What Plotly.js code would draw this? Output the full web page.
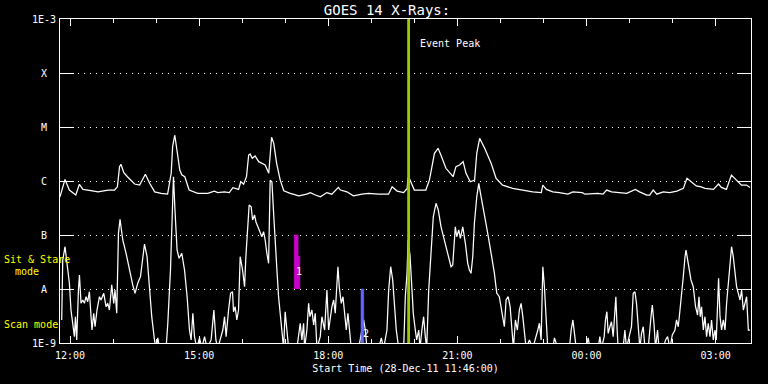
<!DOCTYPE html>
<html><head><meta charset="utf-8">
<script src="https://cdn.plot.ly/plotly-3.0.1.min.js"></script>
<style>html,body{margin:0;padding:0;background:#000;}#chart{width:768px;height:384px;}</style>
</head><body><div id="chart"></div>
<script>
// Minutes after start time 28-Dec-2011 11:46:00 UT
const START_UTC = Date.UTC(2011, 11, 28, 11, 46, 0);
const END_MIN = 963.3;

// Long channel (1-8 A) flux, W/m^2
const longT = [
 0,7,13,22,27,32,43,53,67,76,
 80,83,85,89,94,104,111,115,119,125,
 132,141,150,155,157,160,163,167,170,174,
 180,192,206,215,220,229,236,241,249,252,
 256,260,263,265,268,272,277,281,286,291,
 293,295,298,302,307,312,321,333,344,349,
 356,363,372,379,388,391,400,409,421,430,
 444,458,463,470,479,484,485,487,489,494,
 510,515,522,527,531,538,548,552,557,562,
 566,572,578,581,585,592,601,608,617,631,
 645,659,671,673,678,687,696,708,715,728,
 732,750,757,762,769,783,790,802,808,818,
 822,827,832,841,850,860,869,874,880,887,
 894,899,911,918,922,929,936,943,950,957,
 962];
const longF = [
 5.1e-7,1.07e-6,6.8e-7,5.5e-7,8.7e-7,7.0e-7,6.6e-7,6.3e-7,6.8e-7,6.8e-7,
 7.8e-7,1.84e-6,2.04e-6,1.43e-6,1.2e-6,8.8e-7,8.4e-7,1.04e-6,1.33e-6,9.1e-7,
 6.3e-7,5.9e-7,5.7e-7,1.39e-6,4.32e-6,7.11e-6,3.75e-6,1.6e-6,1.29e-6,1.2e-6,
 6.8e-7,5.9e-7,5.9e-7,6.5e-7,6.1e-7,6.3e-7,6.1e-7,7.5e-7,7.0e-7,9.7e-7,
 8.7e-7,1.2e-6,3.03e-6,3.16e-6,2.63e-6,2.9e-6,2.28e-6,2.13e-6,1.98e-6,1.39e-6,
 3.26e-6,6.44e-6,4.99e-6,2.13e-6,1.04e-6,6.6e-7,5.9e-7,5.3e-7,5.7e-7,6.1e-7,
 5.5e-7,5.1e-7,6.1e-7,5.7e-7,7.6e-7,6.8e-7,6.3e-7,5.3e-7,5.7e-7,5.9e-7,
 5.7e-7,5.7e-7,7.8e-7,6.5e-7,6.1e-7,7.3e-7,1.12e-6,1.12e-6,9.7e-7,6.8e-7,
 6.8e-7,1.04e-6,3.26e-6,4.03e-6,3.03e-6,1.72e-6,1.2e-6,1.84e-6,1.98e-6,2.28e-6,
 1.39e-6,9.7e-7,1.04e-6,3.26e-6,6.18e-6,4.03e-6,2.13e-6,1.12e-6,8.4e-7,7.3e-7,
 6.8e-7,6.3e-7,6.1e-7,8.4e-7,7.0e-7,6.3e-7,6.1e-7,5.7e-7,6.3e-7,6.1e-7,
 5.7e-7,5.9e-7,5.7e-7,6.8e-7,6.3e-7,6.1e-7,5.9e-7,7.0e-7,6.3e-7,5.5e-7,
 5.5e-7,6.8e-7,5.7e-7,6.3e-7,6.1e-7,6.5e-7,7.3e-7,1.12e-6,9.7e-7,8.1e-7,
 7.8e-7,7.3e-7,7.0e-7,8.8e-7,7.6e-7,7.0e-7,1.29e-6,1.04e-6,8.4e-7,8.4e-7,
 7.6e-7];

// Short channel (0.5-4 A) flux, W/m^2 (values below 1E-9 run along the bottom axis)
const shortT = [
 2.4,3.8,7.0,9.8,13.1,15.3,17.7,20.1,21.5,23.3,
 25.7,27.1,29.3,31.7,34.0,36.3,38.6,41.0,43.3,44.6,
 47.0,48.8,51.6,55.0,57.2,61.0,64.2,66.6,68.9,72.1,
 74.9,76.7,79.1,81.5,83.7,87.5,92.1,96.8,101.4,104.6,
 108.4,112.2,115.4,117.8,121.4,124.7,127.9,131.7,134.0,136.3,
 138.7,147.9,150.3,154.0,155.9,158.2,160.5,163.2,166.0,169.8,
 173.6,177.2,180.5,182.8,185.2,187.5,190.7,194.5,197.7,201.5,
 205.1,210.7,214.5,217.3,220.0,224.6,227.0,229.4,231.6,235.0,
 237.8,240.5,241.9,244.2,246.5,248.9,251.2,254.5,257.3,259.1,
 261.9,263.7,266.5,268.5,271.2,273.1,275.9,279.1,281.4,283.8,
 286.0,288.4,290.8,293.0,295.4,297.8,300.0,302.4,304.7,307.0,
 309.3,311.7,313.9,316.3,318.7,330.3,332.6,334.9,337.2,339.6,
 341.0,344.2,346.6,348.4,351.2,353.6,355.8,358.2,362.8,365.1,
 368.9,372.1,374.5,376.7,379.1,381.5,383.7,386.1,387.5,389.3,
 392.1,394.5,396.8,399.1,401.4,403.8,406.0,416.4,418.6,421.0,
 423.3,425.6,428.0,444.3,447.9,451.2,455.8,458.2,461.0,463.8,
 466.6,468.8,472.2,479.1,481.4,483.8,485.2,487.9,490.7,492.5,
 495.3,497.2,500.1,501.9,504.5,506.9,509.3,511.2,514.0,517.2,
 520.4,524.2,527.4,531.2,535.8,540.5,545.1,547.5,551.1,553.1,
 555.9,558.1,561.5,565.1,568.4,570.7,573.0,575.4,577.7,581.0,
 583.8,587.0,591.6,596.3,601.0,605.6,608.9,612.5,616.3,619.5,
 621.9,624.7,627.5,630.3,632.1,634.9,637.6,640.4,642.8,645.2,
 647.4,649.8,654.4,659.1,666.1,668.3,670.7,673.1,675.3,677.7,
 680.0,687.0,689.3,694.0,710.2,712.6,715.0,717.2,719.6,733.5,
 736.3,738.7,750.3,752.6,754.9,758.6,760.4,762.4,764.2,766.6,
 768.8,771.2,773.5,774.9,776.7,778.1,785.0,787.5,789.7,794.5,
 796.7,799.1,801.5,803.7,806.1,808.4,810.7,813.1,815.4,820.0,
 823.9,825.7,828.0,830.2,833.0,835.0,841.0,844.2,847.0,850.3,
 853.6,857.3,859.5,861.9,864.3,866.5,868.9,871.3,872.7,875.8,
 879.6,882.8,886.0,888.8,890.8,892.6,894.4,896.8,899.1,901.4,
 903.7,906.1,908.3,910.7,913.1,914.9,916.7,918.1,920.1,922.3,
 924.7,927.1,929.3,931.6,934.0,936.2,938.6,941.0,943.2,945.6,
 948.0,950.2,952.6,954.9,957.2,959.6,962.0];
const shortF = [
 2.67e-9,3.44e-8,6.07e-8,2.99e-8,1.28e-8,4.08e-9,2.32e-9,1.31e-9,3.07e-9,1.14e-9,
 9.58e-9,1.82e-8,5.43e-9,6.26e-9,5.43e-9,7.2e-9,5.82e-9,8.9e-9,3.07e-9,1.74e-9,
 3.55e-9,2.0e-9,4.08e-9,7.2e-9,6.26e-9,8.32e-9,4.7e-9,5.43e-9,4.08e-9,1.19e-8,
 5.43e-9,9.58e-9,3.55e-9,1.07e-7,1.95e-7,8.08e-8,4.58e-8,2.25e-8,1.19e-8,8.32e-9,
 1.28e-8,1.69e-8,3.96e-8,6.81e-8,3.96e-8,1.1e-8,3.07e-9,1.14e-9,8e-10,1.24e-9,
 8e-10,8e-10,2.32e-9,2.25e-8,1.9e-7,1.2e-6,2.52e-7,5.27e-8,3.7e-8,4.58e-8,
 2.25e-8,7.2e-9,1.74e-9,1.14e-9,3.55e-9,1.31e-9,8e-10,1.24e-9,8e-10,1.31e-9,
 8e-10,1.14e-9,4.08e-9,1.14e-9,8e-10,1.31e-9,1.74e-9,3.07e-9,1.31e-9,4.08e-9,
 8.32e-9,8.9e-9,3.8e-9,4.7e-9,2.67e-9,4.08e-9,3.96e-8,2.25e-8,1.1e-8,3.96e-8,
 1.65e-7,3.59e-7,3.34e-7,1.9e-7,2.35e-7,1.76e-7,1.42e-7,1.07e-7,9.3e-8,1.15e-7,
 8.08e-8,4.58e-8,2.99e-8,1.04e-6,9.7e-7,2.52e-7,6.07e-8,2.25e-8,7.2e-9,3.07e-9,
 1.31e-9,8e-10,3.8e-9,1.74e-9,8e-10,8e-10,1.51e-9,2.32e-9,1.14e-9,2.32e-9,
 8e-10,1.74e-9,5.43e-9,3.07e-9,4.08e-9,2.15e-9,3.55e-9,8e-10,1.31e-9,3.07e-9,
 1.74e-9,9.58e-9,1.74e-9,3.07e-9,4.7e-9,6.26e-9,3.55e-9,1.28e-8,2.59e-8,1.1e-8,
 5.43e-9,7.2e-9,3.07e-9,1.74e-9,3.55e-9,1.31e-9,8e-10,8e-10,1.14e-9,1.74e-9,
 2.67e-9,1.74e-9,8e-10,8e-10,1.24e-9,8e-10,1.74e-9,9.58e-9,2.59e-8,1.47e-8,
 4.08e-9,1.74e-9,8e-10,8e-10,7.2e-9,1.95e-8,8.08e-8,4.26e-8,9.58e-9,3.55e-9,
 1.74e-9,1.14e-9,1.74e-9,8e-10,1.74e-9,3.07e-9,1.31e-9,8e-10,9.58e-9,6.07e-8,
 2.18e-7,3.86e-7,2.9e-7,1.42e-7,8.08e-8,4.58e-8,2.59e-8,2.78e-8,1.42e-7,9.3e-8,
 1.24e-7,8.69e-8,1.42e-7,7.02e-8,2.99e-8,2.25e-8,1.95e-8,3.96e-8,1.65e-7,5.12e-7,
 9.06e-7,5.12e-7,2.52e-7,1.07e-7,4.58e-8,1.95e-8,8.32e-9,7.2e-9,3.55e-9,2.0e-9,
 6.26e-9,7.2e-9,4.7e-9,1.74e-9,8e-10,2.67e-9,1.74e-9,4.08e-9,5.43e-9,3.07e-9,
 1.31e-9,8e-10,1.14e-9,8e-10,1.74e-9,2.32e-9,1.14e-9,2.59e-8,1.1e-8,2.32e-9,
 8e-10,8e-10,1.24e-9,8e-10,8e-10,1.74e-9,2.67e-9,1.51e-9,8e-10,8e-10,
 1.24e-9,8e-10,8e-10,1.31e-9,8e-10,1.31e-9,2.67e-9,3.8e-9,1.51e-9,2.0e-9,
 2.48e-9,1.31e-9,3.55e-9,7.2e-9,1.74e-9,8e-10,8e-10,1.74e-9,8e-10,1.51e-9,
 2.0e-9,8.32e-9,8.9e-9,5.43e-9,2.32e-9,8e-10,1.51e-9,2.0e-9,8e-10,8e-10,
 3.07e-9,5.05e-9,2.32e-9,8e-10,1.74e-9,8e-10,8e-10,1.14e-9,1.31e-9,8e-10,
 1.41e-9,1.74e-9,2.67e-9,2.0e-9,4.08e-9,7.2e-9,1.69e-8,3.96e-8,5.27e-8,2.99e-8,
 1.47e-8,1.1e-8,4.7e-9,3.3e-9,7.2e-9,3.07e-9,4.7e-9,1.74e-9,3.07e-9,1.31e-9,
 2.32e-9,1.31e-9,2.67e-9,1.14e-9,1.74e-9,1.14e-9,4.08e-9,1.58e-8,3.07e-9,1.74e-9,
 2.67e-9,1.74e-9,5.43e-9,1.1e-8,2.99e-8,6.07e-8,3.96e-8,2.25e-8,1.1e-8,8.32e-9,
 6.26e-9,9.58e-9,4.08e-9,5.43e-9,7.2e-9,1.74e-9,1.74e-9];

// Observation windows (minutes after start, flux bounds)
const sitStareT = [326.5, 326.5, 332, 332, 334.4, 334.4];
const sitStareF = [1e-8, 1e-7, 1e-7, 4.1e-8, 4.1e-8, 1e-8];
const scanT = [419.6, 419.6, 423.5, 423.5];
const scanF = [1e-9, 1e-8, 1e-8, 1e-9];
const eventPeakT = 486;
const windowLabels = ['1', '2'];
const windowLabelT = [333, 426.5];
const windowLabelF = [2.1e-8, 1.5e-9];

// Y axis labels
const yTickVals = [1e-9, 1e-8, 1e-7, 1e-6, 1e-5, 1e-4, 1e-3];
const yTickText = ['1E-9', 'A', 'B', 'C', 'M', 'X', '1E-3'];

function toDate(m) {
  const d = new Date(START_UTC + Math.round(m * 60000));
  const p = n => String(n).padStart(2, '0');
  return d.getUTCFullYear() + '-' + p(d.getUTCMonth() + 1) + '-' + p(d.getUTCDate()) + ' ' +
    p(d.getUTCHours()) + ':' + p(d.getUTCMinutes()) + ':' + p(d.getUTCSeconds());
}

const FONT = 'DejaVu Sans Mono, monospace';
const PL = 60, PW = 691, PT = 19, PH = 324;
const px2paperX = px => (px - PL) / PW;
const px2paperY = py => (PT + PH - py) / PH;

const traces = [
  {x: longT.map(toDate), y: longF, mode: 'lines', line: {color: '#ffffff', width: 1.25}, hoverinfo: 'skip'},
  {x: shortT.map(toDate), y: shortF, mode: 'lines', line: {color: '#ffffff', width: 1.25}, hoverinfo: 'skip'},
  {x: sitStareT.map(toDate), y: sitStareF, mode: 'lines', fill: 'toself', fillcolor: '#cc00cc', line: {color: '#cc00cc', width: 0.5}, hoverinfo: 'skip'},
  {x: scanT.map(toDate), y: scanF, mode: 'lines', fill: 'toself', fillcolor: '#6464ff', line: {color: '#6464ff', width: 0.5}, hoverinfo: 'skip'},
  {x: [toDate(eventPeakT), toDate(eventPeakT)], y: [1e-9, 1e-3], mode: 'lines', line: {color: '#99cc00', width: 2.8}, hoverinfo: 'skip'}
];

const annotations = [];
yTickVals.forEach((v, i) => annotations.push({
  xref: 'paper', yref: 'y', x: px2paperX(44), y: Math.log10(v), text: yTickText[i],
  showarrow: false, xanchor: 'center', yanchor: 'middle', font: {family: FONT, size: 10, color: '#ffffff'}
}));
annotations.push({xref: 'paper', yref: 'paper', x: px2paperX(2), y: px2paperY(259.5), text: 'Sit & Stare', showarrow: false, xanchor: 'left', yanchor: 'middle', font: {family: FONT, size: 10, color: '#ffff00'}});
annotations.push({xref: 'paper', yref: 'paper', x: px2paperX(13), y: px2paperY(271), text: 'mode', showarrow: false, xanchor: 'left', yanchor: 'middle', font: {family: FONT, size: 10, color: '#ffff00'}});
annotations.push({xref: 'paper', yref: 'paper', x: px2paperX(2), y: px2paperY(324), text: 'Scan mode', showarrow: false, xanchor: 'left', yanchor: 'middle', font: {family: FONT, size: 10, color: '#ffff00'}});
annotations.push({xref: 'paper', yref: 'paper', x: px2paperX(418), y: px2paperY(43), text: 'Event Peak', showarrow: false, xanchor: 'left', yanchor: 'middle', font: {family: FONT, size: 10, color: '#ffffff'}});
windowLabels.forEach((t, i) => annotations.push({
  xref: 'x', yref: 'y', x: toDate(windowLabelT[i]), y: Math.log10(windowLabelF[i]), text: t,
  showarrow: false, xanchor: 'center', yanchor: 'middle', font: {family: FONT, size: 10, color: '#ffffff'}
}));

const layout = {
  width: 768, height: 384,
  paper_bgcolor: '#000000', plot_bgcolor: '#000000',
  margin: {l: PL, r: 768 - PL - PW, t: PT, b: 384 - PT - PH, pad: 0},
  showlegend: false,
  font: {family: FONT, size: 10, color: '#ffffff'},
  title: {text: 'GOES 14 X-Rays:', font: {family: FONT, size: 14, color: '#ffffff'},
    xref: 'container', x: 387 / 768, xanchor: 'center', yref: 'container', y: 1 - 10 / 384, yanchor: 'middle'},
  xaxis: {
    type: 'date', range: [toDate(0), toDate(END_MIN)],
    tick0: '2011-12-28 12:00:00', dtick: 3 * 3600000, tickformat: '%H:%M',
    ticks: 'inside', ticklen: 7, tickwidth: 1, tickcolor: '#ffffff',
    ticklabelstandoff: 3,
    minor: {dtick: 3600000, tick0: '2011-12-28 12:00:00', ticks: 'inside', ticklen: 4, tickwidth: 1, tickcolor: '#ffffff', showgrid: false},
    showline: true, linecolor: '#ffffff', linewidth: 1, mirror: 'ticks',
    showgrid: false, zeroline: false,
    tickfont: {family: FONT, size: 10, color: '#ffffff'},
    title: {text: 'Start Time (28-Dec-11 11:46:00)', font: {family: FONT, size: 10, color: '#ffffff'}, standoff: 4},
    automargin: false, fixedrange: true
  },
  yaxis: {
    type: 'log', range: [-9, -3],
    tickvals: yTickVals, ticktext: yTickText, showticklabels: false,
    ticks: 'inside', ticklen: 14, tickwidth: 1, tickcolor: '#ffffff',
    showline: true, linecolor: '#ffffff', linewidth: 1, mirror: 'ticks',
    showgrid: true, gridcolor: '#ffffff', gridwidth: 1, griddash: '1px,5px',
    zeroline: false, automargin: false, fixedrange: true
  },
  annotations: annotations
};

Plotly.newPlot('chart', traces, layout, {staticPlot: true, displayModeBar: false});
</script>
</body></html>
